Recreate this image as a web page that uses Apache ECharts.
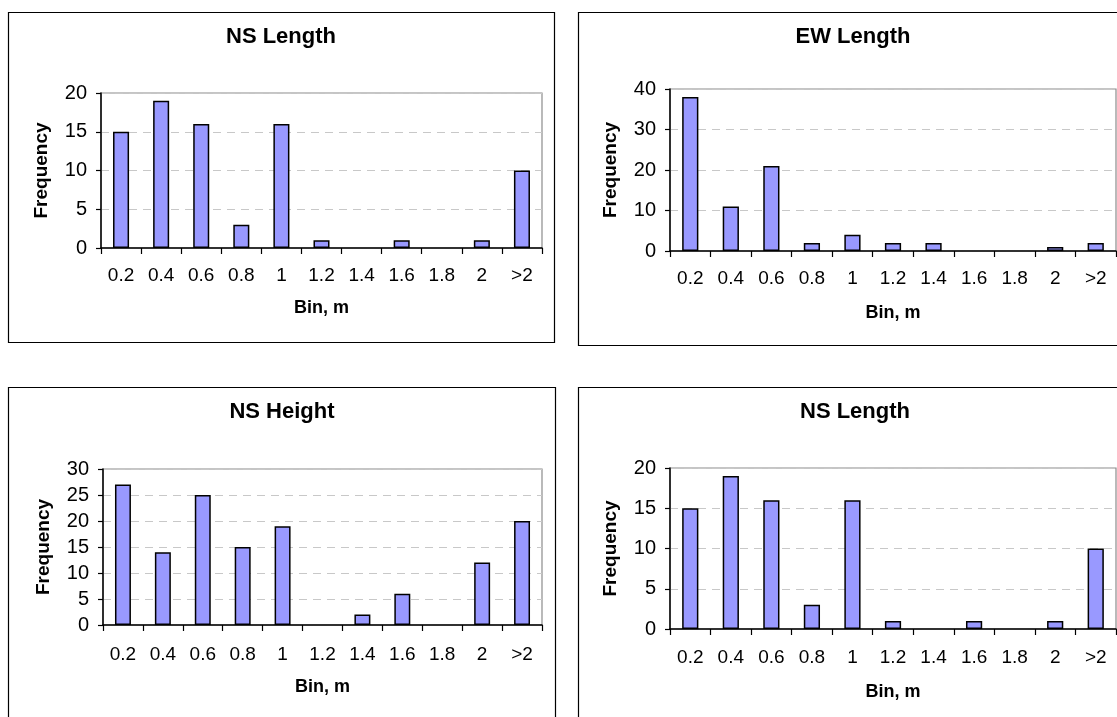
<!DOCTYPE html>
<html>
<head>
<meta charset="utf-8">
<script src="https://cdn.jsdelivr.net/npm/echarts@6/dist/echarts.min.js"></script>
<style>
  html, body { margin: 0; padding: 0; background: #fff; }
  #chart { width: 1117px; height: 717px; }
</style>
</head>
<body>
<div id="chart"></div>
<script>
// Histogram bins (upper edge in metres)
const bins = ['0.2', '0.4', '0.6', '0.8', '1', '1.2', '1.4', '1.6', '1.8', '2', '>2'];

// Frequencies per bin for each panel
const nsLengthA = [15, 19, 16, 3, 16, 1, 0, 1, 0, 1, 10];
const ewLength  = [38, 11, 21, 2, 4, 2, 2, 0, 0, 1, 2];
const nsHeight  = [27, 14, 25, 15, 19, 0, 2, 6, 0, 12, 20];
const nsLengthB = [15, 19, 16, 3, 16, 1, 0, 1, 0, 1, 10];

const titles = ['NS Length', 'EW Length', 'NS Height', 'NS Length'];
const yMax = [20, 40, 30, 20];
const yStep = [5, 10, 5, 5];

const FONT = 'Liberation Sans, Arial, Helvetica, sans-serif';

// Panel layout: frame boxes and plot rectangles
const panels = [
  { box: [8.5, 12.5, 546, 330],  grid: { left: 101, top: 93,  width: 441, height: 155 }, title: [281, 38],  labelMargin: 18, nameGap: 51 },
  { box: [578.5, 12.5, 560, 333], grid: { left: 670, top: 89, width: 446, height: 162 }, title: [853, 38],  labelMargin: 18, nameGap: 53 },
  { box: [8.5, 387.5, 547, 340], grid: { left: 103, top: 469, width: 439, height: 156 }, title: [282, 413], labelMargin: 20, nameGap: 53 },
  { box: [578.5, 387.5, 560, 340], grid: { left: 670, top: 468, width: 446, height: 161 }, title: [855, 413], labelMargin: 19, nameGap: 54 }
];

const seriesData = [nsLengthA, ewLength, nsHeight, nsLengthB];

// Empty bins get no outline so they stay invisible
function toItems(arr) {
  return arr.map(v => v === 0 ? { value: 0, itemStyle: { borderWidth: 0 } } : v);
}

const chart = echarts.init(document.getElementById('chart'), null, { renderer: 'canvas' });

const option = {
  backgroundColor: '#ffffff',
  animation: false,
  textStyle: { fontFamily: FONT, color: '#000' },
  title: panels.map((p, i) => ({
    text: titles[i],
    left: p.title[0],
    top: p.title[1] - 12,
    textAlign: 'center',
    padding: 0,
    textStyle: { fontFamily: FONT, fontSize: 22, fontWeight: 'bold', color: '#000' }
  })),
  graphic: panels.map(p => ({
    type: 'rect',
    silent: true,
    z: -1,
    shape: { x: p.box[0], y: p.box[1], width: p.box[2], height: p.box[3] },
    style: { fill: 'none', stroke: '#000', lineWidth: 1.2 }
  })),
  grid: panels.map(p => Object.assign({
    show: true,
    backgroundColor: '#fff',
    borderColor: '#8c8c8c',
    borderWidth: 1.2
  }, p.grid)),
  xAxis: panels.map((p, i) => ({
    type: 'category',
    gridIndex: i,
    data: bins,
    boundaryGap: true,
    name: 'Bin, m',
    nameLocation: 'middle',
    nameGap: p.nameGap,
    nameTextStyle: { fontFamily: FONT, fontSize: 18, fontWeight: 'bold', color: '#000' },
    axisLine: { show: true, lineStyle: { color: '#000', width: 1.5 } },
    axisTick: { show: true, length: 6, inside: false, lineStyle: { color: '#000', width: 1.2 } },
    axisLabel: { fontFamily: FONT, fontSize: 19, color: '#000', margin: p.labelMargin, interval: 0 },
    splitLine: { show: false }
  })),
  yAxis: panels.map((p, i) => ({
    type: 'value',
    gridIndex: i,
    min: 0,
    max: yMax[i],
    interval: yStep[i],
    name: 'Frequency',
    nameLocation: 'middle',
    nameGap: 50,
    nameTextStyle: { fontFamily: FONT, fontSize: 19, fontWeight: 'bold', color: '#000' },
    axisLine: { show: true, lineStyle: { color: '#000', width: 1.5 } },
    axisTick: { show: true, length: 5, inside: false, lineStyle: { color: '#000', width: 1.2 } },
    axisLabel: { fontFamily: FONT, fontSize: 20, color: '#000', margin: 14 },
    splitLine: { show: true, lineStyle: { color: '#c8c8c8', width: 1, type: [8, 6] } }
  })),
  series: seriesData.map((d, i) => ({
    type: 'bar',
    xAxisIndex: i,
    yAxisIndex: i,
    data: toItems(d),
    barWidth: '40%',
    itemStyle: { color: '#9999ff', borderColor: '#000', borderWidth: 1.5 }
  }))
};

chart.setOption(option);
</script>
</body>
</html>
